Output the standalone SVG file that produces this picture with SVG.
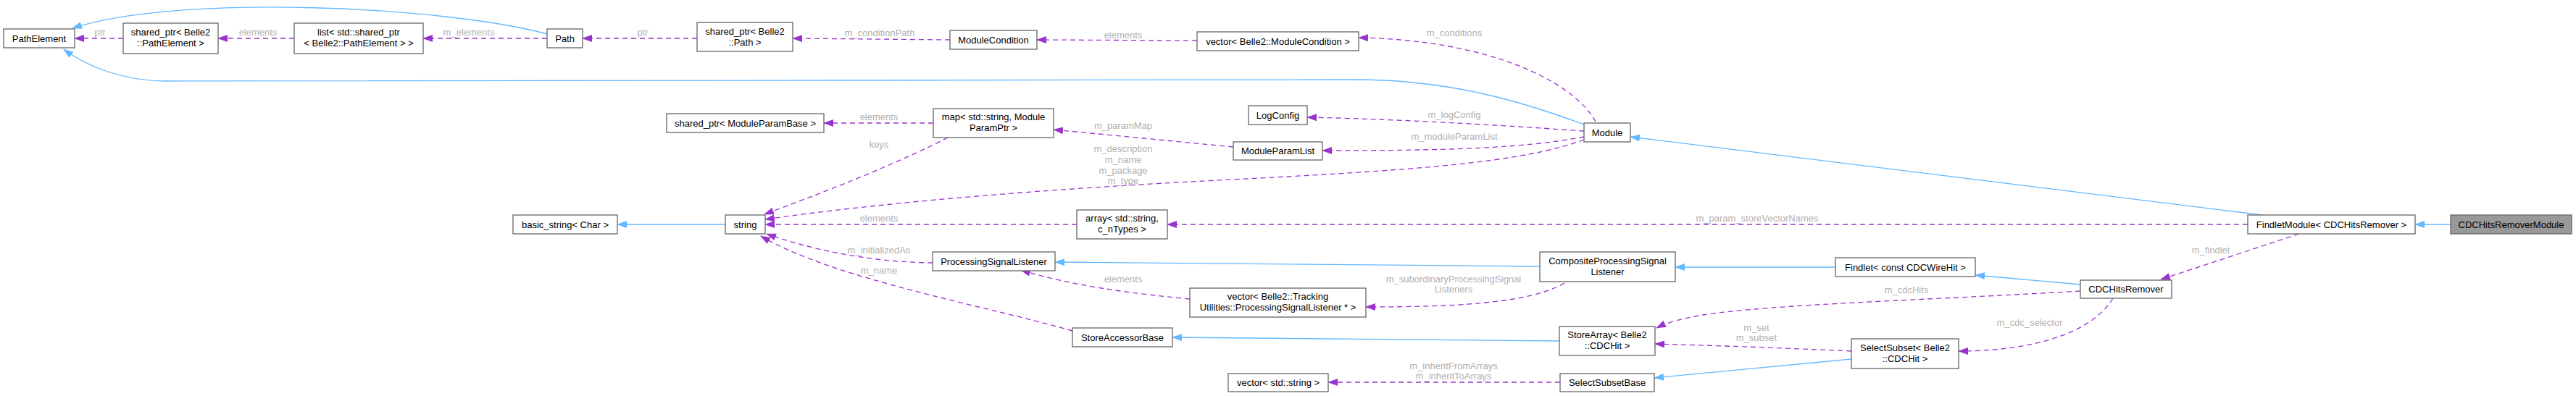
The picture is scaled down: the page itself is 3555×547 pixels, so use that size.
<svg xmlns="http://www.w3.org/2000/svg" width="3555" height="547" viewBox="0 0 3555 547">
<style>
.n rect{fill:#fff;stroke:#666;stroke-width:1.3}
.n text{font-family:"Liberation Sans",Arial,sans-serif;font-size:13px;fill:#000;text-anchor:middle}
.inh{fill:none;stroke:#63b8ff;stroke-width:1.3}
.use{fill:none;stroke:#9a32cd;stroke-width:1.3;stroke-dasharray:7,5}
.lbl{font-family:"Liberation Sans",Arial,sans-serif;font-size:13px;fill:#b0b0b0;text-anchor:middle}
</style>
<defs>
<marker id="ab" viewBox="0 0 14 10" refX="13" refY="5" markerWidth="14" markerHeight="10" markerUnits="userSpaceOnUse" orient="auto"><path d="M0,0 L14,5 L0,10 z" fill="#63b8ff"/></marker>
<marker id="ap" viewBox="0 0 14 10" refX="13" refY="5" markerWidth="14" markerHeight="10" markerUnits="userSpaceOnUse" orient="auto"><path d="M0,0 L14,5 L0,10 z" fill="#9a32cd"/></marker>
</defs>
<rect width="3555" height="547" fill="#fff"/>
<g id="connectors">
<path class="inh" marker-end="url(#ab)" d="M755,47 C620,10 250,-10 100,39"/>
<path class="inh" marker-end="url(#ab)" d="M2186,172 C2100,140 2000,110 1870,110 L230,112 C170,112 120,92 88,68"/>
<path class="inh" marker-end="url(#ab)" d="M3122,297 L2250,189"/>
<path class="inh" marker-end="url(#ab)" d="M3382,310 L3333,310"/>
<path class="inh" marker-end="url(#ab)" d="M1001,310 L852,310"/>
<path class="inh" marker-end="url(#ab)" d="M2125,368 L1456,362"/>
<path class="inh" marker-end="url(#ab)" d="M2533,369 L2312,369"/>
<path class="inh" marker-end="url(#ab)" d="M2871,393 L2726,380"/>
<path class="inh" marker-end="url(#ab)" d="M2152,471 L1618,466"/>
<path class="inh" marker-end="url(#ab)" d="M2555,496 L2283,522"/>

<path class="use" marker-end="url(#ap)" d="M170,53 L103,53"/>
<path class="use" marker-end="url(#ap)" d="M406,53 L301,53"/>
<path class="use" marker-end="url(#ap)" d="M755,53 L584,53"/>
<path class="use" marker-end="url(#ap)" d="M962,53 L804,53"/>
<path class="use" marker-end="url(#ap)" d="M1311,55 L1094,53"/>
<path class="use" marker-end="url(#ap)" d="M1652,56 L1431,55"/>
<path class="use" marker-end="url(#ap)" d="M2202,168 C2170,110 2050,55 1875,52"/>
<path class="use" marker-end="url(#ap)" d="M1288,170 L1137,170"/>
<path class="use" marker-end="url(#ap)" d="M1308,190 C1230,230 1130,268 1055,296"/>
<path class="use" marker-end="url(#ap)" d="M1702,203 L1454,179"/>
<path class="use" marker-end="url(#ap)" d="M2186,181 C2100,175 1950,165 1804,162"/>
<path class="use" marker-end="url(#ap)" d="M2186,189 C2100,205 2000,208 1825,208"/>
<path class="use" marker-end="url(#ap)" d="M2186,193 C2100,225 1950,235 1700,248 C1500,258 1250,275 1056,303"/>
<path class="use" marker-end="url(#ap)" d="M1486,310 L1056,310"/>
<path class="use" marker-end="url(#ap)" d="M3102,310 L1611,310"/>
<path class="use" marker-end="url(#ap)" d="M1287,363 C1200,362 1120,345 1058,323"/>
<path class="use" marker-end="url(#ap)" d="M1480,457 C1350,420 1150,385 1050,326"/>
<path class="use" marker-end="url(#ap)" d="M1642,413 C1560,405 1480,395 1409,373"/>
<path class="use" marker-end="url(#ap)" d="M2159,391 C2110,420 2000,424 1885,424"/>
<path class="use" marker-end="url(#ap)" d="M3173,323 L2982,386"/>
<path class="use" marker-end="url(#ap)" d="M2871,402 C2650,415 2450,420 2350,435 C2320,440 2300,446 2286,453"/>
<path class="use" marker-end="url(#ap)" d="M2555,485 C2450,480 2350,477 2284,475"/>
<path class="use" marker-end="url(#ap)" d="M2916,412 C2880,470 2780,485 2703,485"/>
<path class="use" marker-end="url(#ap)" d="M2153,528 L1833,528"/>

<text class="lbl" x="138" y="49">ptr</text>
<text class="lbl" x="356" y="49">elements</text>
<text class="lbl" x="647" y="49">m_elements</text>
<text class="lbl" x="887" y="49">ptr</text>
<text class="lbl" x="1214" y="50">m_conditionPath</text>
<text class="lbl" x="1550" y="53">elements</text>
<text class="lbl" x="2007" y="50">m_conditions</text>
<text class="lbl" x="1213" y="166">elements</text>
<text class="lbl" x="1550" y="178">m_paramMap</text>
<text class="lbl" x="1213" y="204">keys</text>
<text class="lbl" x="1550" y="210">m_description</text>
<text class="lbl" x="1550" y="225">m_name</text>
<text class="lbl" x="1550" y="240">m_package</text>
<text class="lbl" x="1550" y="254">m_type</text>
<text class="lbl" x="2007" y="163">m_logConfig</text>
<text class="lbl" x="2007" y="193">m_moduleParamList</text>
<text class="lbl" x="1213" y="306">elements</text>
<text class="lbl" x="2425" y="306">m_param_storeVectorNames</text>
<text class="lbl" x="1213" y="350">m_initializedAs</text>
<text class="lbl" x="1213" y="378">m_name</text>
<text class="lbl" x="1550" y="390">elements</text>
<text class="lbl" x="2006" y="390">m_subordinaryProcessingSignal</text>
<text class="lbl" x="2006" y="404">Listeners</text>
<text class="lbl" x="3051" y="350">m_findlet</text>
<text class="lbl" x="2631" y="405">m_cdcHits</text>
<text class="lbl" x="2801" y="450">m_cdc_selector</text>
<text class="lbl" x="2424" y="457">m_set</text>
<text class="lbl" x="2424" y="471">m_subset</text>
<text class="lbl" x="2006" y="510">m_inheritFromArrays</text>
<text class="lbl" x="2006" y="524">m_inheritToArrays</text>
</g>

<g id="PathElement" class="n"><rect x="5" y="40" width="98" height="26"/><text x="54" y="58">PathElement</text></g>
<g id="sp_PathElement" class="n"><rect x="170" y="32" width="131" height="42"/><text x="235.5" y="49">shared_ptr&lt; Belle2</text><text x="235.5" y="64">::PathElement &gt;</text></g>
<g id="list_sp" class="n"><rect x="406" y="32" width="178" height="42"/><text x="495" y="49">list&lt; std::shared_ptr</text><text x="495" y="64">&lt; Belle2::PathElement &gt; &gt;</text></g>
<g id="Path" class="n"><rect x="755" y="40" width="49" height="26"/><text x="779.5" y="58">Path</text></g>
<g id="sp_Path" class="n"><rect x="962" y="31" width="132" height="40"/><text x="1028" y="48">shared_ptr&lt; Belle2</text><text x="1028" y="63">::Path &gt;</text></g>
<g id="ModuleCondition" class="n"><rect x="1311" y="42" width="120" height="26"/><text x="1371" y="60">ModuleCondition</text></g>
<g id="vec_MC" class="n"><rect x="1652" y="44" width="223" height="26"/><text x="1763.5" y="62">vector&lt; Belle2::ModuleCondition &gt;</text></g>
<g id="sp_MPB" class="n"><rect x="920" y="157" width="217" height="26"/><text x="1028.5" y="175">shared_ptr&lt; ModuleParamBase &gt;</text></g>
<g id="map" class="n"><rect x="1288" y="150" width="166" height="40"/><text x="1371" y="166">map&lt; std::string, Module</text><text x="1371" y="181">ParamPtr &gt;</text></g>
<g id="LogConfig" class="n"><rect x="1723" y="146" width="81" height="26"/><text x="1763.5" y="164">LogConfig</text></g>
<g id="ModuleParamList" class="n"><rect x="1702" y="196" width="123" height="25"/><text x="1763.5" y="213">ModuleParamList</text></g>
<g id="Module" class="n"><rect x="2186" y="170" width="64" height="26"/><text x="2218" y="188">Module</text></g>
<g id="basic_string" class="n"><rect x="708" y="297" width="144" height="26"/><text x="780" y="315">basic_string&lt; Char &gt;</text></g>
<g id="string" class="n"><rect x="1001" y="297" width="55" height="26"/><text x="1028.5" y="315">string</text></g>
<g id="array" class="n"><rect x="1486" y="290" width="125" height="40"/><text x="1548.5" y="306">array&lt; std::string,</text><text x="1548.5" y="321">c_nTypes &gt;</text></g>
<g id="FindletModule" class="n"><rect x="3102" y="297" width="231" height="26"/><text x="3217.5" y="315">FindletModule&lt; CDCHitsRemover &gt;</text></g>
<g id="CDCHitsRemoverModule" class="n"><rect x="3382" y="297" width="167" height="26" style="fill:#999"/><text x="3465.5" y="315">CDCHitsRemoverModule</text></g>
<g id="ProcessingSignalListener" class="n"><rect x="1287" y="348" width="169" height="26"/><text x="1371.5" y="366">ProcessingSignalListener</text></g>
<g id="CompositePSL" class="n"><rect x="2125" y="348" width="187" height="41"/><text x="2218.5" y="365">CompositeProcessingSignal</text><text x="2218.5" y="380">Listener</text></g>
<g id="Findlet" class="n"><rect x="2533" y="356" width="193" height="26"/><text x="2629.5" y="374">Findlet&lt; const CDCWireHit &gt;</text></g>
<g id="CDCHitsRemover" class="n"><rect x="2871" y="387" width="126" height="25"/><text x="2934" y="404">CDCHitsRemover</text></g>
<g id="vec_PSL" class="n"><rect x="1642" y="398" width="243" height="40"/><text x="1763.5" y="414">vector&lt; Belle2::Tracking</text><text x="1763.5" y="429">Utilities::ProcessingSignalListener * &gt;</text></g>
<g id="StoreAccessorBase" class="n"><rect x="1480" y="453" width="138" height="26"/><text x="1549" y="471">StoreAccessorBase</text></g>
<g id="StoreArray" class="n"><rect x="2152" y="451" width="132" height="40"/><text x="2218" y="467">StoreArray&lt; Belle2</text><text x="2218" y="482">::CDCHit &gt;</text></g>
<g id="SelectSubset" class="n"><rect x="2555" y="468" width="148" height="41"/><text x="2629" y="485">SelectSubset&lt; Belle2</text><text x="2629" y="500">::CDCHit &gt;</text></g>
<g id="vec_string" class="n"><rect x="1695" y="516" width="138" height="25"/><text x="1764" y="533">vector&lt; std::string &gt;</text></g>
<g id="SelectSubsetBase" class="n"><rect x="2153" y="516" width="130" height="25"/><text x="2218" y="533">SelectSubsetBase</text></g>
</svg>
